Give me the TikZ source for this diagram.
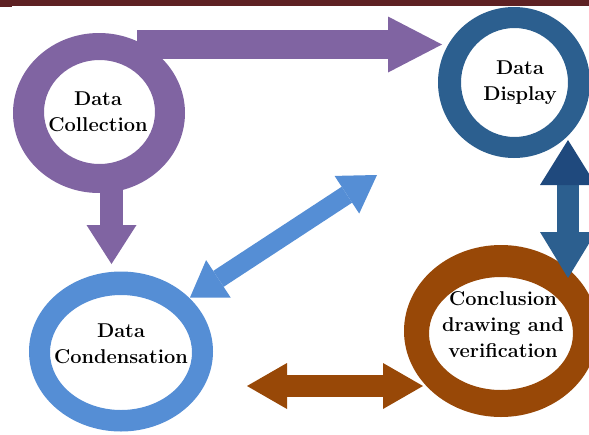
\documentclass[tikz,border=0pt]{standalone}
\usepackage{fontspec}
\usetikzlibrary{arrows.meta}
\definecolor{maroon}{HTML}{5E2123}
\definecolor{pur}{HTML}{8064A2}
\definecolor{dispblue}{HTML}{2C5F8F}
\definecolor{navy}{HTML}{1F497D}
\definecolor{lblue}{HTML}{558ED5}
\definecolor{brown}{HTML}{984807}
\begin{document}
\begin{tikzpicture}[x=1pt,y=-1pt,
  lbl/.style={font=\fontsize{20}{26}\selectfont\bfseries, align=center, inner sep=0pt, text=black},
  fat/.style={line width=#1}]
\useasboundingbox (0,0) rectangle (589,434);
% top bar
\fill[maroon] (0,0) rectangle (589,6);
\fill[maroon] (0,0) rectangle (12,7);
% ring centres
\coordinate (collO) at (99,113);   \coordinate (collI) at (99.5,112);
\coordinate (dispO) at (514,82.5); \coordinate (dispI) at (514.5,82.5);
\coordinate (condO) at (121,351.5);\coordinate (condI) at (121,352.5);
\coordinate (concO) at (501,331);  \coordinate (concI) at (501,333.5);
% rings
\fill[pur, even odd rule] (collO) ellipse [x radius=86pt, y radius=80pt] (collI) ellipse [x radius=55.5pt, y radius=52pt];
\fill[dispblue, even odd rule] (dispO) ellipse [x radius=76pt, y radius=75.5pt] (dispI) ellipse [x radius=53.5pt, y radius=54.5pt];
\fill[lblue, even odd rule] (condO) ellipse [x radius=92pt, y radius=80pt] (condI) ellipse [x radius=71pt, y radius=57.5pt];
\fill[brown, even odd rule] (concO) ellipse [x radius=97pt, y radius=86pt] (concI) ellipse [x radius=72pt, y radius=56.5pt];
% connector end points
\coordinate (p1) at (137,44.5);  \coordinate (p2) at (442,44.5);
\coordinate (d1) at (111.5,185); \coordinate (d2) at (111.5,264);
\coordinate (g1) at (190,297.5); \coordinate (g2) at (377,175);
\coordinate (b1) at (247,386);   \coordinate (b2) at (423,386);
\coordinate (v1) at (568,140);   \coordinate (v2) at (568,278);
% arrows
\draw[pur, fat=29pt, -{Triangle[width=56pt,length=54pt,line width=0pt]}] (p1) -- (p2);
\draw[pur, fat=23pt, -{Triangle[width=50pt,length=39pt,line width=0pt]}] (d1) -- (d2);
\draw[lblue, fat=19pt, {Triangle[width=45pt,length=34pt,line width=0pt]}-{Triangle[width=45pt,length=36pt,line width=0pt]}] (g1) -- (g2);
\draw[brown, fat=22pt, {Triangle[width=46pt,length=40pt,line width=0pt]}-{Triangle[width=46pt,length=40pt,line width=0pt]}] (b1) -- (b2);
\draw[dispblue, fat=22pt, {Triangle[width=56pt,length=45pt,line width=0pt,color=navy]}-{Triangle[width=56pt,length=46pt,line width=0pt]}] (v1) -- (v2);
% labels
\node[lbl] (coll) at (98,112) {Data\\Collection};
\node[lbl] (disp) at (520,83) {Data\\Display};
\node[lbl] (cond) at (121,344) {Data\\Condensation};
\node[lbl] (conc) at (503,324.5) {Conclusion\\drawing and\\verification};
\end{tikzpicture}
\end{document}
